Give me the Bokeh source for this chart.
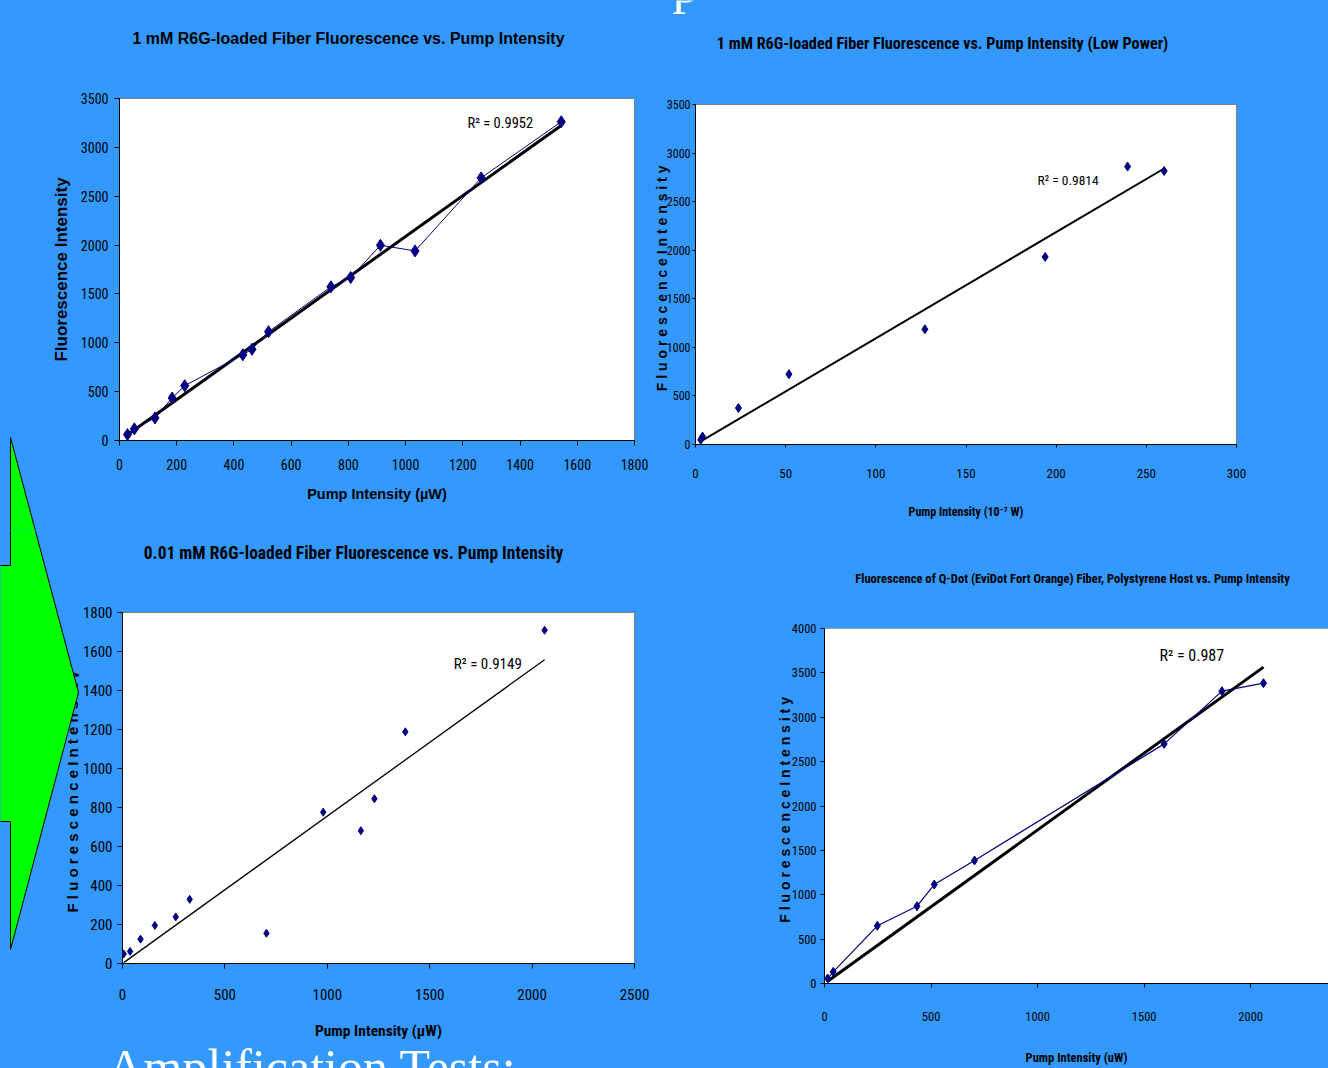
import numpy as np
from bokeh.plotting import figure
from bokeh.layouts import column, row
from bokeh.models import Range1d, Label, FixedTicker, Span, GlobalInlineStyleSheet
from bokeh.core.properties import value
from bokeh.embed import file_html
from bokeh.resources import INLINE

# ---------------- data ----------------
c1_x = [28, 52, 124, 184, 228, 431, 463, 521, 739, 808, 912, 1033, 1264, 1544]
c1_y = [61, 119, 231, 435, 561, 877, 934, 1114, 1573, 1668, 1998, 1940, 2688, 3262]
c1_xticks = [0, 200, 400, 600, 800, 1000, 1200, 1400, 1600, 1800]
c1_yticks = [0, 500, 1000, 1500, 2000, 2500, 3000, 3500]

c2_x = [2.9, 3.9, 23.8, 51.8, 127.2, 193.9, 239.6, 259.9]
c2_y = [48, 82, 376, 724, 1186, 1931, 2861, 2816]
c2_xticks = [0, 50, 100, 150, 200, 250, 300]
c2_yticks = [0, 500, 1000, 1500, 2000, 2500, 3000, 3500]

c3_x = [6, 37, 88, 158, 260, 328, 703, 980, 1164, 1230, 1381, 2061]
c3_y = [49, 62, 125, 195, 239, 329, 155, 776, 681, 845, 1188, 1709]
c3_xticks = [0, 500, 1000, 1500, 2000, 2500]
c3_yticks = [0, 200, 400, 600, 800, 1000, 1200, 1400, 1600, 1800]

c4_x = [15, 41, 248, 434, 515, 704, 1594, 1865, 2060]
c4_y = [56, 131, 650, 871, 1115, 1386, 2700, 3294, 3384]
c4_xticks = [0, 500, 1000, 1500, 2000, 2500]
c4_yticks = [0, 500, 1000, 1500, 2000, 2500, 3000, 3500, 4000]

titles = [
    "1 mM R6G-loaded Fiber Fluorescence vs. Pump Intensity",
    "1 mM R6G-loaded Fiber Fluorescence vs. Pump Intensity (Low Power)",
    "0.01 mM R6G-loaded Fiber Fluorescence vs. Pump Intensity",
    "Fluorescence of Q-Dot (EviDot Fort Orange) Fiber, Polystyrene Host vs. Pump Intensity",
]
r2_texts = ["R\u00b2 = 0.9952", "R\u00b2 = 0.9814", "R\u00b2 = 0.9149", "R\u00b2 = 0.987"]
x_labels = ["Pump Intensity (\u00b5W)", "Pump Intensity (10\u207b\u2077 W)",
            "Pump Intensity (\u00b5W)", "Pump Intensity (uW)"]
y_label_plain = "Fluorescence Intensity"
y_label_spaced = "F l u o r e s c e n c e   I n t e n s i t y"
slide_text = "Amplification Tests:"
slide_title_tail = "p"

# ---------------- style ----------------
BG = "#3399FF"
NAVY = "#000080"
GREEN = "#00FF00"
NARROW = "Roboto Condensed"
SANS = "Liberation Sans"
SERIF = "Liberation Serif"

# decorative arrow outline, page pixels
arrow_px = [-5, 10, 10, 78, 10, 10, -5]
arrow_py = [565, 565, 437, 692, 949, 821, 821]
ROW_SPLIT = 530


def origin_fit(x, y):
    x = np.asarray(x, float)
    y = np.asarray(y, float)
    k = (x * y).sum() / (x * x).sum()
    xs = np.array([x.min(), x.max()])
    return xs, k * xs


def strip(x0, y0, w, h):
    """Plain blue panel whose frame is the whole canvas, page-pixel coordinates (y negated)."""
    f = figure(width=w, height=h, x_range=Range1d(x0, x0 + w), y_range=Range1d(-(y0 + h), -y0),
               output_backend="svg", toolbar_location=None, min_border=0,
               x_axis_location=None, y_axis_location=None,
               background_fill_color=BG, border_fill_color=BG, outline_line_color=None)
    f.grid.visible = False
    return f


def strip_text(f, px, py, text, font, size, style="normal", align="left",
               baseline="middle", color="black", angle=0.0):
    f.text(x=[px], y=[-py], text=[text], text_font=value(font), text_font_size=size,
           text_font_style=style, text_align=align, text_baseline=baseline,
           text_color=color, angle=angle)


def strip_arrow(f):
    f.patch(arrow_px, [-v for v in arrow_py], fill_color=GREEN, fill_alpha=1.0,
            line_color="black", line_width=1)
    # cover the seam where the arrow crosses the boundary between the two rows
    xr = arrow_px[2] + (ROW_SPLIT - arrow_py[2]) / (arrow_py[3] - arrow_py[2]) * (arrow_px[3] - arrow_px[2])
    f.segment(x0=[arrow_px[2] + 0.8], y0=[-ROW_SPLIT], x1=[xr - 0.8], y1=[-ROW_SPLIT],
              line_color=GREEN, line_width=3)


def chart(ox, oy, W, H, frame, xr, yr, xt, yt, tick_size, xl_std, yl_std, tick_out=5):
    FL, FR, FT, FB = frame
    p = figure(width=W, height=H, x_range=Range1d(*xr), y_range=Range1d(*yr),
               output_backend="svg", toolbar_location=None,
               min_border_left=FL - ox, min_border_right=ox + W - FR,
               min_border_top=FT - oy, min_border_bottom=oy + H - FB,
               background_fill_color="white", border_fill_color=BG,
               outline_line_color="#808080", outline_line_width=1)
    p.grid.visible = False
    p.xaxis.ticker = FixedTicker(ticks=xt)
    p.yaxis.ticker = FixedTicker(ticks=yt)
    for ax in (p.xaxis[0], p.yaxis[0]):
        ax.axis_line_color = "black"
        ax.major_tick_line_color = "black"
        ax.major_tick_in = 0
        ax.major_tick_out = tick_out
        ax.minor_tick_line_color = None
        ax.major_label_text_color = "black"
        ax.major_label_text_font = NARROW
        ax.major_label_text_font_size = tick_size
        ax.axis_label_text_color = "black"
        ax.axis_label_text_font_style = "bold"
    p.xaxis.major_label_standoff = xl_std
    p.yaxis.major_label_standoff = yl_std

    def dx(px):
        return xr[0] + (px - FL) / (FR - FL) * (xr[1] - xr[0])

    def dy(py):
        return yr[0] + (FB - py) / (FB - FT) * (yr[1] - yr[0])
    return p, dx, dy


def add_label(p, x, y, text, font, size):
    p.add_layout(Label(x=x, y=y, text=text, text_font=font, text_font_size=size,
                       text_align="left", text_baseline="middle", text_color="black"))


# ================= top row (y 0..530) =================
stripA = strip(0, 0, 40, ROW_SPLIT)
strip_arrow(stripA)

title1 = strip(40, 0, 608, 60)
strip_text(title1, 348, 38, titles[0], SANS, "16px", "bold", "center")

p1, dx1, dy1 = chart(40, 60, 608, 470, (119, 634, 98, 440), (0, 1800), (0, 3500),
                     c1_xticks, c1_yticks, "14px", 13, 6)
p1.xaxis.axis_label = x_labels[0]
p1.xaxis.axis_label_text_font = SANS
p1.xaxis.axis_label_text_font_size = "14.5px"
p1.xaxis.axis_label_standoff = 13
p1.yaxis.axis_label = y_label_plain
p1.yaxis.axis_label_text_font = SANS
p1.yaxis.axis_label_text_font_size = "17px"
p1.yaxis.axis_label_standoff = 7
tx, ty = origin_fit(c1_x, c1_y)
p1.line(tx, ty, line_color="black", line_width=3)
p1.line(c1_x, c1_y, line_color=NAVY, line_width=1)
p1.scatter(c1_x, c1_y, marker="diamond", size=12, color=NAVY)
add_label(p1, dx1(467), dy1(123), r2_texts[0], NARROW, "14.5px")

title2 = strip(648, 0, 680, 70)
strip_text(title2, 942, 43, titles[1], NARROW, "16.2px", "bold", "center")
strip_text(title2, 672, -17, slide_title_tail, SERIF, "54px", "normal", "left",
           "alphabetic", "white")

p2, dx2, dy2 = chart(648, 70, 680, 460, (695, 1236, 104, 444), (0, 300), (0, 3500),
                     c2_xticks, c2_yticks, "12px", 21, 2, tick_out=3)
p2.xaxis.major_label_text_font_size = "13px"
p2.xaxis.axis_label = x_labels[1]
p2.xaxis.axis_label_text_font = NARROW
p2.xaxis.axis_label_text_font_size = "12px"
p2.xaxis.axis_label_standoff = 24
p2.yaxis.axis_label = y_label_spaced
p2.yaxis.axis_label_text_font = SANS
p2.yaxis.axis_label_text_font_size = "14px"
p2.yaxis.axis_label_standoff = -6
tx, ty = origin_fit(c2_x, c2_y)
p2.line(tx, ty, line_color="black", line_width=2)
p2.scatter(c2_x, c2_y, marker="diamond", size=9, color=NAVY)
add_label(p2, dx2(1037), dy2(179), r2_texts[1], NARROW, "13.5px")

# ================= bottom row (y 530..1068) =================
arrowB = strip(0, ROW_SPLIT, 79, 516)
strip_text(arrowB, 72, 787, y_label_spaced, SANS, "15px", "bold", "center", "middle",
           "black", np.pi / 2)
strip_arrow(arrowB)

title3 = strip(79, ROW_SPLIT, 573, 50)
strip_text(title3, 353, 552, titles[2], NARROW, "17.5px", "bold", "center")

p3, dx3, dy3 = chart(79, 580, 573, 466, (121, 634, 612, 963), (0, 2500), (0, 1800),
                     c3_xticks, c3_yticks, "15px", 20, 5)
p3.xaxis.axis_label = x_labels[2]
p3.xaxis.axis_label_text_font = NARROW
p3.xaxis.axis_label_text_font_size = "15.5px"
p3.xaxis.axis_label_standoff = 19
tx, ty = origin_fit(c3_x, c3_y)
p3.line(tx, ty, line_color="black", line_width=1.3)
p3.scatter(c3_x, c3_y, marker="diamond", size=8, color=NAVY)
add_label(p3, dx3(453), dy3(663), r2_texts[2], NARROW, "15px")

slide = strip(0, 1046, 652, 22)
strip_text(slide, 107, 1066, slide_text, SERIF, "50px", "normal", "left", "alphabetic", "white")

title4 = strip(652, ROW_SPLIT, 676, 70)
strip_text(title4, 1072, 578, titles[3], NARROW, "12.6px", "bold", "center")

p4, dx4, dy4 = chart(652, 600, 676, 468, (824, 1328, 628, 983), (0, 2365), (0, 4000),
                     c4_xticks, c4_yticks, "12.5px", 24, 4, tick_out=4)
p4.outline_line_color = None
p4.add_layout(Span(location=4000, dimension="width", line_color="#808080", line_width=1))
p4.xaxis.axis_label = x_labels[3]
p4.xaxis.axis_label_text_font = NARROW
p4.xaxis.axis_label_text_font_size = "12.5px"
p4.xaxis.axis_label_standoff = 26
p4.yaxis.axis_label = y_label_spaced
p4.yaxis.axis_label_text_font = SANS
p4.yaxis.axis_label_text_font_size = "14px"
p4.yaxis.axis_label_standoff = -4
tx, ty = origin_fit(c4_x, c4_y)
p4.line(tx, ty, line_color="black", line_width=3)
p4.line(c4_x, c4_y, line_color=NAVY, line_width=1.2)
p4.scatter(c4_x, c4_y, marker="diamond", size=9, color=NAVY)
add_label(p4, dx4(1159), dy4(655), r2_texts[3], NARROW, "16px")

rowA = row(stripA, column(title1, column(p1)), column(title2, column(p2)))
bottom_left = column(row(arrowB, column(title3, column(p3))), slide)
rowB = row(bottom_left, column(title4, column(p4)))
layout = column(rowA, rowB)
layout.stylesheets = [GlobalInlineStyleSheet(
    css="html, body { margin: 0 !important; padding: 0; background: #3399FF; overflow: hidden; }")]

open("out.html", "w").write(file_html(layout, INLINE))
